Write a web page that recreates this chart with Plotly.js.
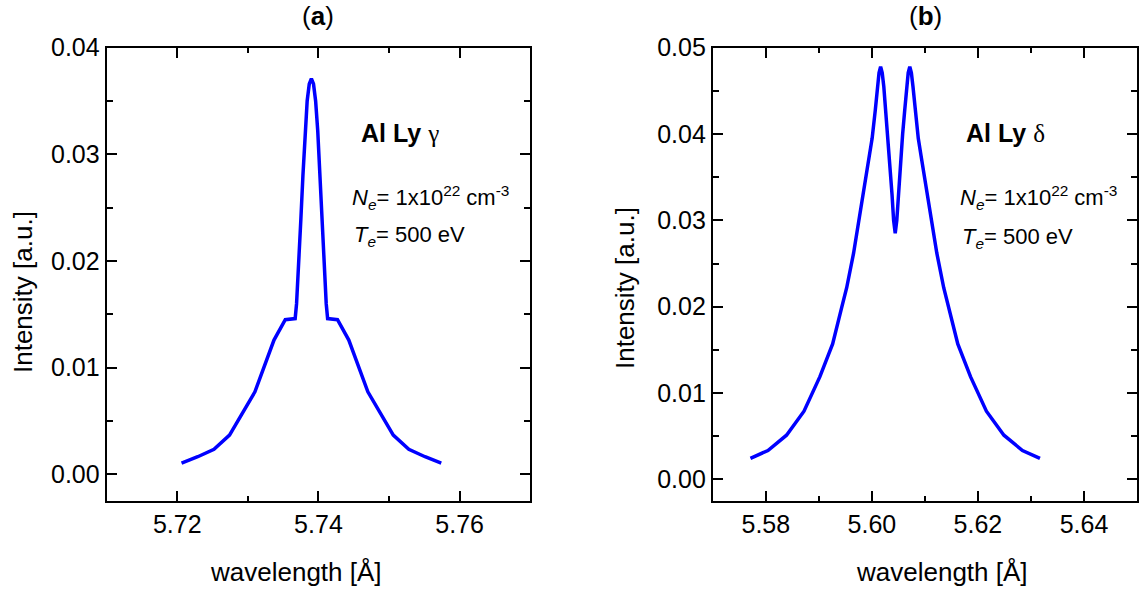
<!DOCTYPE html>
<html>
<head>
<meta charset="utf-8">
<script src="https://cdn.plot.ly/plotly-3.0.1.min.js"></script>
<style>html,body{margin:0;padding:0;background:#fff;}#chart{width:1142px;height:594px;}</style>
</head>
<body>
<div id="chart"></div>
<script>
// Panel (a): Al Ly gamma
const wavelengthA = [5.7206, 5.7229, 5.7252, 5.7274, 5.7310, 5.7337, 5.7353, 5.7367, 5.7369, 5.7372, 5.7375, 5.7378, 5.7381, 5.7384, 5.7387, 5.7390, 5.7393, 5.7396, 5.7399, 5.7402, 5.7405, 5.7408, 5.7411, 5.7413, 5.7427, 5.7443, 5.7470, 5.7506, 5.7528, 5.7551, 5.7574];
const intensityA  = [0.00106, 0.00165, 0.00234, 0.00368, 0.00774, 0.01259, 0.01450, 0.01460, 0.01600, 0.01950, 0.02380, 0.02800, 0.03220, 0.03500, 0.03660, 0.03710, 0.03660, 0.03500, 0.03220, 0.02800, 0.02380, 0.01950, 0.01600, 0.01460, 0.01450, 0.01259, 0.00774, 0.00368, 0.00234, 0.00165, 0.00106];

// Panel (b): Al Ly delta
const wavelengthB = [5.5771, 5.5804, 5.5839, 5.5872, 5.5902, 5.5926, 5.5943, 5.59525, 5.59655, 5.59765, 5.59865, 5.59945, 5.60005, 5.60065, 5.60105, 5.60135, 5.60165, 5.60195, 5.60225, 5.6026, 5.6030, 5.6034, 5.6038, 5.6041, 5.6044, 5.6047, 5.6050, 5.6054, 5.6058, 5.6062, 5.60655, 5.60685, 5.60715, 5.60745, 5.60775, 5.60815, 5.60875, 5.60935, 5.61015, 5.61115, 5.61225, 5.61355, 5.6145, 5.6162, 5.6186, 5.6216, 5.6249, 5.6284, 5.6317];
const intensityB  = [0.00243, 0.00335, 0.00512, 0.0079, 0.0119, 0.0157, 0.0199, 0.0222, 0.0262, 0.0305, 0.0340, 0.0372, 0.0395, 0.0428, 0.0455, 0.0471, 0.0478, 0.0471, 0.0455, 0.0428, 0.0400, 0.0365, 0.0330, 0.0300, 0.0285, 0.0300, 0.0330, 0.0365, 0.0400, 0.0428, 0.0455, 0.0471, 0.0478, 0.0471, 0.0455, 0.0428, 0.0395, 0.0372, 0.0340, 0.0305, 0.0262, 0.0222, 0.0199, 0.0157, 0.0119, 0.0079, 0.00512, 0.00335, 0.00243];

const panelTitles = ['(<b>a</b>)', '(<b>b</b>)'];
const lineNames = ['<b>Al Ly</b> <span style="font-family:\'Liberation Serif\', \'DejaVu Serif\', serif">γ</span>',
                   '<b>Al Ly</b> <span style="font-family:\'Liberation Serif\', \'DejaVu Serif\', serif">δ</span>'];
const densityText = '<i>N</i><sub><i>e</i></sub>= 1x10<sup>22</sup> cm<sup>-3</sup>';
const tempText = '<i>T</i><sub><i>e</i></sub>= 500 eV';
const xTitle = 'wavelength [Å]';
const yTitle = 'Intensity [a.u.]';

const FONT = 'Liberation Sans, Arial, Helvetica, sans-serif';
const W = 1142, H = 594;
const px = v => v / W;
const py = v => 1 - v / H;

const lineStyle = {color: 'rgb(0,0,255)', width: 3.5};

const traces = [
  {x: wavelengthA, y: intensityA, type: 'scatter', mode: 'lines', line: lineStyle, xaxis: 'x', yaxis: 'y', hoverinfo: 'x+y'},
  {x: wavelengthB, y: intensityB, type: 'scatter', mode: 'lines', line: lineStyle, xaxis: 'x2', yaxis: 'y2', hoverinfo: 'x+y'}
];

function axisBase(extra) {
  return Object.assign({
    showline: true, linewidth: 2, linecolor: 'black', mirror: 'ticks',
    ticks: 'inside', ticklen: 10, tickwidth: 2, tickcolor: 'black',
    showgrid: false, zeroline: false,
    tickfont: {family: FONT, size: 25, color: 'black'},
    tickformat: '.2f'
  }, extra);
}

const yDomain = [1 - 501 / H, 1 - 47.7 / H];

function note(text, x, y, size, opts) {
  return Object.assign({text: text, xref: 'paper', yref: 'paper', x: px(x), y: py(y),
    xanchor: 'left', yanchor: 'middle', showarrow: false,
    font: {family: FONT, size: size, color: 'black'}}, opts || {});
}

const layout = {
  width: W, height: H,
  margin: {l: 0, r: 0, t: 0, b: 0},
  paper_bgcolor: 'white', plot_bgcolor: 'white',
  showlegend: false,
  font: {family: FONT, color: 'black', size: 22},
  xaxis: axisBase({
    domain: [px(106.7), px(530.2)], range: [5.71, 5.77], dtick: 0.02, tick0: 5.72, anchor: 'y',
    minor: {ticks: 'inside', ticklen: 5, tickwidth: 2, tickcolor: 'black', dtick: 0.01, tick0: 5.71, showgrid: false}
  }),
  yaxis: axisBase({
    domain: yDomain, range: [-0.0025, 0.04], dtick: 0.01, tick0: 0, anchor: 'x',
    minor: {ticks: 'inside', ticklen: 6, tickwidth: 2, tickcolor: 'black', dtick: 0.005, tick0: 0, showgrid: false}
  }),
  xaxis2: axisBase({
    domain: [px(712.8), px(1137)], range: [5.57, 5.65], dtick: 0.02, tick0: 5.58, anchor: 'y2',
    minor: {ticks: 'inside', ticklen: 5, tickwidth: 2, tickcolor: 'black', dtick: 0.01, tick0: 5.57, showgrid: false}
  }),
  yaxis2: axisBase({
    domain: yDomain, range: [-0.0025, 0.05], dtick: 0.01, tick0: 0, anchor: 'x2',
    minor: {ticks: 'inside', ticklen: 6, tickwidth: 2, tickcolor: 'black', dtick: 0.005, tick0: 0, showgrid: false}
  }),
  annotations: [
    note(panelTitles[0], 318.4, 16, 26, {xanchor: 'center'}),
    note(panelTitles[1], 925, 16, 26, {xanchor: 'center'}),
    note(lineNames[0], 359, 133, 25),
    note(densityText, 350, 197, 22),
    note(tempText, 352, 236, 22),
    note(lineNames[1], 964, 133, 25),
    note(densityText, 958, 198, 22),
    note(tempText, 960, 238, 22),
    note(xTitle, 296, 572, 26, {xanchor: 'center'}),
    note(xTitle, 942, 572, 26, {xanchor: 'center'}),
    note(yTitle, 23, 292, 26, {xanchor: 'center', textangle: -90}),
    note(yTitle, 625, 288, 26, {xanchor: 'center', textangle: -90})
  ]
};

Plotly.newPlot('chart', traces, layout, {displayModeBar: false});
</script>
</body>
</html>
